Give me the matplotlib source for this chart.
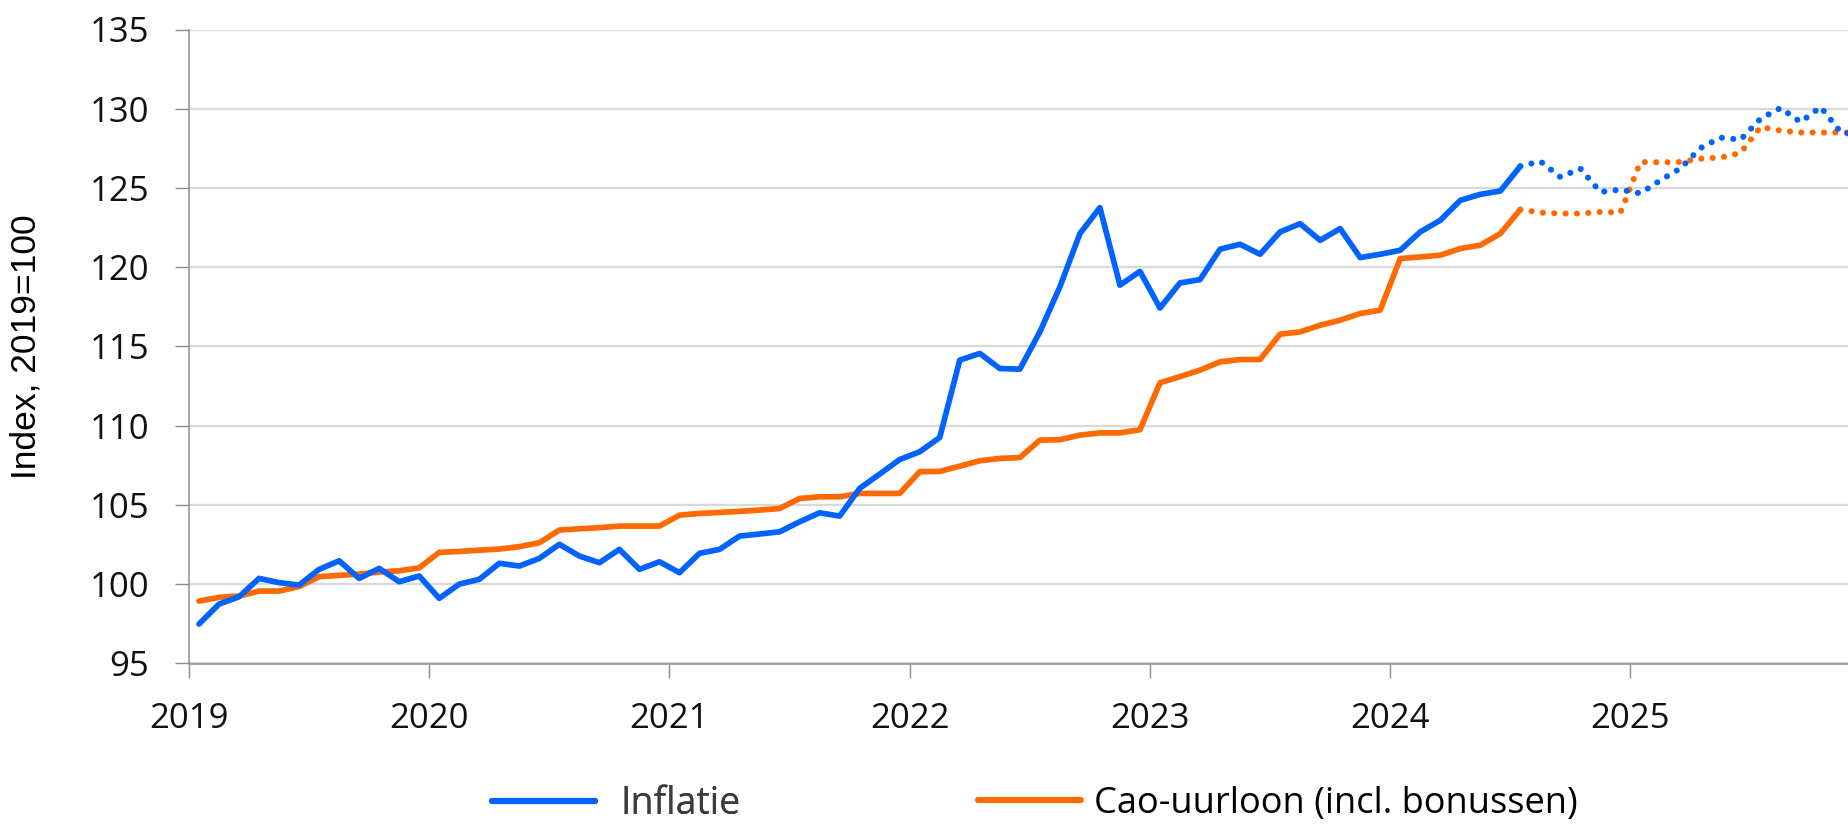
import matplotlib
matplotlib.use("Agg")
import matplotlib.pyplot as plt
from matplotlib.lines import Line2D

# ---- data (monthly, Jan 2019 .. Dec 2025) ----
year_labels = ["2019", "2020", "2021", "2022", "2023", "2024", "2025"]
inflatie = [
    97.49, 98.75, 99.21, 100.37, 100.10, 99.95, 100.94, 101.48, 100.37, 101.00, 100.16, 100.52,   # 2019
    99.11, 100.01, 100.31, 101.32, 101.15, 101.63, 102.52, 101.78, 101.36, 102.20, 100.94, 101.42,  # 2020
    100.73, 101.95, 102.20, 103.04, 103.17, 103.31, 103.94, 104.51, 104.30, 106.05, 106.95, 107.87,  # 2021
    108.36, 109.26, 114.14, 114.56, 113.61, 113.57, 115.92, 118.76, 122.12, 123.76, 118.87, 119.74,  # 2022
    117.43, 119.01, 119.22, 121.14, 121.45, 120.82, 122.23, 122.75, 121.70, 122.44, 120.61, 120.82,  # 2023
    121.07, 122.23, 122.96, 124.22, 124.60, 124.81, 126.37, 126.68, 125.69, 126.22, 124.75, 124.90,  # 2024
    124.66, 125.49, 126.24, 127.52, 128.18, 128.05, 129.37, 130.05, 129.16, 130.11, 128.53, 128.30,  # 2025
]
cao_uurloon = [
    98.94, 99.17, 99.26, 99.57, 99.57, 99.85, 100.48, 100.56, 100.64, 100.77, 100.85, 101.04,  # 2019
    102.01, 102.07, 102.15, 102.22, 102.37, 102.62, 103.42, 103.50, 103.57, 103.67, 103.67, 103.67,  # 2020
    104.36, 104.47, 104.53, 104.60, 104.68, 104.78, 105.41, 105.52, 105.52, 105.73, 105.73, 105.73,  # 2021
    107.10, 107.12, 107.45, 107.79, 107.94, 107.99, 109.09, 109.12, 109.41, 109.55, 109.55, 109.75,  # 2022
    112.71, 113.10, 113.51, 114.03, 114.18, 114.18, 115.78, 115.92, 116.34, 116.66, 117.08, 117.29,  # 2023
    120.55, 120.65, 120.76, 121.18, 121.39, 122.12, 123.64, 123.45, 123.39, 123.39, 123.49, 123.45,  # 2024
    126.64, 126.62, 126.64, 126.85, 126.92, 127.21, 128.85, 128.62, 128.50, 128.50, 128.50, 128.50,  # 2025
]
last_realised = 66  # Jul 2024: last month of realised data
series_names = ["Inflatie", "Cao-uurloon (incl. bonussen)"]

BLUE = "#0062FF"
ORANGE = "#FF6A00"

plt.rcParams["font.family"] = ["Open Sans", "DejaVu Sans"]

W, H = 1848, 824
fig = plt.figure(figsize=(W / 100, H / 100), dpi=100)
left_px, right_px, top_px, bottom_px = 189, 1848, 29.5, 663.5
ax = fig.add_axes([left_px / W, 1 - bottom_px / H, (right_px - left_px) / W, (bottom_px - top_px) / H])

x = [i + 0.5 for i in range(len(inflatie))]
k = last_realised

solid_kw = dict(lw=4.1, solid_capstyle="round", solid_joinstyle="round")
dot_kw = dict(lw=4.4, linestyle=(0, (0.01, 1.85)), dash_capstyle="round")

ax.plot(x[:k + 1], cao_uurloon[:k + 1], color=ORANGE, **solid_kw, zorder=3)
ax.plot(x[k:], cao_uurloon[k:], color=ORANGE, **dot_kw, zorder=3)
ax.plot(x[:k + 1], inflatie[:k + 1], color=BLUE, **solid_kw, zorder=4)
ax.plot(x[k:], inflatie[k:], color=BLUE, **dot_kw, zorder=4)

ax.set_xlim(0, (right_px - left_px) / 20.02)
ax.set_ylim(95, 135)
ax.set_yticks(range(95, 136, 5))
ax.set_xticks([12 * j for j in range(len(year_labels))])
ax.set_xticklabels(year_labels)

ax.yaxis.grid(True, color="#d9d9d9", lw=1.6)
ax.set_axisbelow(True)
for s in ["top", "right"]:
    ax.spines[s].set_visible(False)
for s in ["left", "bottom"]:
    ax.spines[s].set_color("#8c8c8c")
    ax.spines[s].set_linewidth(1.1)

ax.tick_params(axis="y", length=10, width=1.0, color="#8c8c8c", pad=18.5, labelsize=25, labelcolor="#111111")
ax.tick_params(axis="x", length=10, width=1.0, color="#8c8c8c", pad=18, labelsize=25, labelcolor="#111111")

ax.set_ylabel("Index, 2019=100", family=["Liberation Sans", "DejaVu Sans"], fontsize=25.5, va="center")
ax.yaxis.set_label_coords((26 - left_px) / (right_px - left_px), 0.5)

# legend (two entries, laid out as in the reference)
h1 = Line2D([], [], color=BLUE, lw=4.4, solid_capstyle="round")
h2 = Line2D([], [], color=ORANGE, lw=4.4, solid_capstyle="round")
leg_y = 1 - 804 / H
leg1 = fig.legend([h1], [series_names[0]], loc="center left", bbox_to_anchor=(491.5 / W, leg_y),
                  frameon=False, fontsize=27, handlelength=2.75, handletextpad=0.7,
                  borderpad=0, borderaxespad=0)
leg1.get_texts()[0].set_color("#3c3c3c")
leg2 = fig.legend([h2], [series_names[1]], loc="center left", bbox_to_anchor=(978.5 / W, leg_y),
                  frameon=False, fontsize=26, handlelength=2.85, handletextpad=0.35,
                  borderpad=0, borderaxespad=0)
leg2.get_texts()[0].set_color("#000000")
fig.add_artist(leg1)

fig.savefig("out.png", dpi=100)
